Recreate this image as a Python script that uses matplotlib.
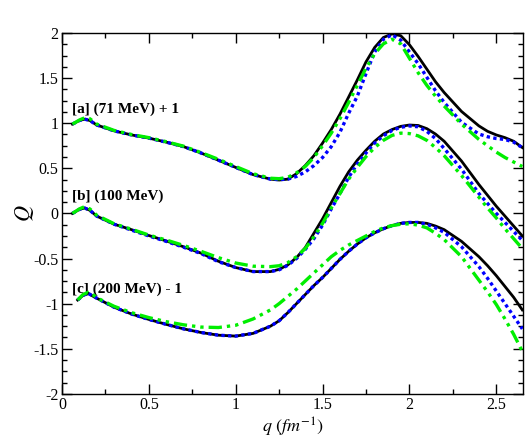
import numpy as np
import matplotlib
matplotlib.use('Agg')
import matplotlib.pyplot as plt
from matplotlib.ticker import MultipleLocator

plt.rcParams['font.family'] = ['Liberation Serif', 'DejaVu Serif']
plt.rcParams['mathtext.fontset'] = 'stix'
plt.rcParams['axes.unicode_minus'] = False

# q grid for panels [a] and [b]
q_ab = [0.06, 0.10, 0.13, 0.16, 0.2, 0.3, 0.4, 0.5, 0.6, 0.7, 0.8, 0.9, 1.0, 1.1, 1.2,
        1.25, 1.3, 1.35, 1.4, 1.45, 1.5, 1.55, 1.6, 1.65, 1.7, 1.75, 1.8, 1.85, 1.9,
        1.95, 2.0, 2.05, 2.1, 2.15, 2.2, 2.3, 2.4, 2.45, 2.5, 2.55, 2.6, 2.65]
# q grid for panel [c]
q_c = [0.09, 0.12, 0.15, 0.18, 0.2, 0.3, 0.4, 0.5, 0.6, 0.7, 0.8, 0.9, 1.0, 1.1, 1.2,
       1.25, 1.3, 1.35, 1.4, 1.45, 1.5, 1.55, 1.6, 1.65, 1.7, 1.75, 1.8, 1.85, 1.9,
       1.95, 2.0, 2.05, 2.1, 2.15, 2.2, 2.3, 2.4, 2.45, 2.5, 2.55, 2.6, 2.65]

# [a] 71 MeV (plotted + 1)
a_solid = [-0.01, 0.03, 0.045, 0.03, -0.02, -0.085, -0.13, -0.165, -0.21, -0.26, -0.33, -0.41,
           -0.49, -0.57, -0.62, -0.63, -0.62, -0.56, -0.47, -0.36, -0.22, -0.07, 0.10, 0.29,
           0.48, 0.68, 0.84, 0.95, 0.99, 0.97, 0.87, 0.74, 0.60, 0.46, 0.34, 0.13, -0.03,
           -0.09, -0.13, -0.16, -0.20, -0.27]
a_dot = [-0.01, 0.03, 0.045, 0.03, -0.02, -0.085, -0.13, -0.165, -0.21, -0.26, -0.33, -0.41,
         -0.49, -0.57, -0.62, -0.625, -0.62, -0.59, -0.54, -0.47, -0.38, -0.26, -0.10, 0.11,
         0.30, 0.55, 0.79, 0.93, 0.98, 0.92, 0.79, 0.66, 0.51, 0.36, 0.23, 0.01, -0.12,
         -0.15, -0.17, -0.18, -0.21, -0.27]
a_dash = [-0.01, 0.035, 0.06, 0.05, -0.01, -0.08, -0.125, -0.16, -0.205, -0.255, -0.325, -0.40,
          -0.48, -0.56, -0.61, -0.615, -0.60, -0.55, -0.48, -0.38, -0.25, -0.11, 0.05, 0.23,
          0.42, 0.61, 0.77, 0.88, 0.93, 0.88, 0.72, 0.56, 0.42, 0.30, 0.19, -0.01, -0.18,
          -0.25, -0.32, -0.38, -0.43, -0.48]

# [b] 100 MeV
b_solid = [0.0, 0.045, 0.06, 0.035, -0.03, -0.12, -0.18, -0.245, -0.305, -0.37, -0.44, -0.53,
           -0.60, -0.645, -0.645, -0.62, -0.57, -0.49, -0.38, -0.22, -0.06, 0.12, 0.30, 0.46,
           0.59, 0.70, 0.80, 0.88, 0.93, 0.965, 0.98, 0.975, 0.94, 0.88, 0.80, 0.58, 0.32,
           0.20, 0.08, -0.03, -0.14, -0.25]
b_dot = [0.0, 0.045, 0.06, 0.035, -0.03, -0.12, -0.185, -0.25, -0.31, -0.375, -0.445, -0.535,
         -0.60, -0.645, -0.645, -0.625, -0.575, -0.50, -0.40, -0.28, -0.13, 0.05, 0.22, 0.40,
         0.55, 0.67, 0.78, 0.86, 0.92, 0.955, 0.97, 0.96, 0.91, 0.83, 0.72, 0.49, 0.22,
         0.11, 0.0, -0.10, -0.20, -0.30]
b_dash = [0.0, 0.05, 0.075, 0.05, -0.02, -0.115, -0.175, -0.24, -0.295, -0.355, -0.42, -0.49,
          -0.55, -0.585, -0.59, -0.58, -0.545, -0.48, -0.39, -0.26, -0.11, 0.06, 0.22, 0.38,
          0.51, 0.63, 0.73, 0.81, 0.865, 0.89, 0.885, 0.86, 0.81, 0.73, 0.64, 0.42, 0.18,
          0.06, -0.05, -0.17, -0.28, -0.39]

# [c] 200 MeV (plotted - 1)
c_solid = [0.04, 0.09, 0.115, 0.08, 0.06, -0.04, -0.115, -0.175, -0.23, -0.28, -0.32, -0.35,
           -0.36, -0.33, -0.25, -0.19, -0.10, 0.0, 0.10, 0.20, 0.29, 0.39, 0.49, 0.58,
           0.66, 0.73, 0.785, 0.83, 0.865, 0.89, 0.90, 0.90, 0.89, 0.86, 0.82, 0.69, 0.52,
           0.42, 0.31, 0.19, 0.07, -0.07]
c_dot = [0.04, 0.09, 0.115, 0.08, 0.06, -0.04, -0.115, -0.175, -0.23, -0.28, -0.32, -0.35,
         -0.36, -0.33, -0.25, -0.19, -0.10, 0.0, 0.10, 0.20, 0.29, 0.39, 0.49, 0.58,
         0.66, 0.73, 0.785, 0.83, 0.865, 0.89, 0.90, 0.90, 0.88, 0.84, 0.79, 0.63, 0.41,
         0.28, 0.14, 0.0, -0.14, -0.28]
c_dash = [0.04, 0.10, 0.125, 0.095, 0.065, -0.03, -0.10, -0.155, -0.20, -0.235, -0.26, -0.265,
          -0.24, -0.17, -0.07, 0.0, 0.08, 0.16, 0.25, 0.34, 0.43, 0.52, 0.59, 0.65,
          0.70, 0.75, 0.80, 0.84, 0.865, 0.88, 0.885, 0.87, 0.84, 0.78, 0.71, 0.52, 0.26,
          0.13, -0.01, -0.17, -0.34, -0.53]

offsets = [1, 0, -1]
labels = ['[a] (71 MeV) + 1', '[b] (100 MeV)', '[c] (200 MeV) - 1']
label_y = [1.16, 0.19, -0.84]

fig = plt.figure(figsize=(5.31, 4.43), dpi=100)
ax = fig.add_axes([0.1168, 0.111, 0.8682, 0.8145])

sets = [(q_ab, a_solid, a_dot, a_dash),
        (q_ab, b_solid, b_dot, b_dash),
        (q_c, c_solid, c_dot, c_dash)]

for (q, ys, yd, yg), off in zip(sets, offsets):
    q = np.array(q)
    ax.plot(q, np.array(ys) + off, color='black', lw=2.0, zorder=3)
    ax.plot(q, np.array(yd) + off, color='#0000ff', lw=2.4,
            linestyle=(0, (1.0, 1.0)), zorder=4)
    ax.plot(q, np.array(yg) + off, color='#00ee00', lw=2.4,
            linestyle=(0, (4.0, 1.5, 1.0, 1.5, 1.0, 1.5)), zorder=5)

for lab, ly in zip(labels, label_y):
    ax.text(0.055, ly, lab, fontsize=11, fontweight='bold', va='center', ha='left')

ax.set_xlim(0, 2.654)
ax.set_ylim(-2, 2)
ax.xaxis.set_minor_locator(MultipleLocator(0.25))
ax.yaxis.set_minor_locator(MultipleLocator(0.125))
ax.set_xticks([0, 0.5, 1, 1.5, 2, 2.5])
ax.set_xticklabels(['0', '0.5', '1', '1.5', '2', '2.5'])
ax.set_yticks([-2, -1.5, -1, -0.5, 0, 0.5, 1, 1.5, 2])
ax.set_yticklabels(['-2', '-1.5', '-1', '-0.5', '0', '0.5', '1', '1.5', '2'])
ax.tick_params(which='both', direction='in', top=True, right=True, labelsize=11.5, pad=2.5)
ax.tick_params(which='major', length=7, width=1)
ax.tick_params(which='minor', length=3.5, width=1)
for sp in ax.spines.values():
    sp.set_linewidth(1.0)

ax.set_xlabel(r'$q\ (fm^{-1})$', fontsize=13, labelpad=2)
ax.set_ylabel(r'$Q$', fontsize=16, labelpad=-2)

fig.savefig('out.png', dpi=100)
